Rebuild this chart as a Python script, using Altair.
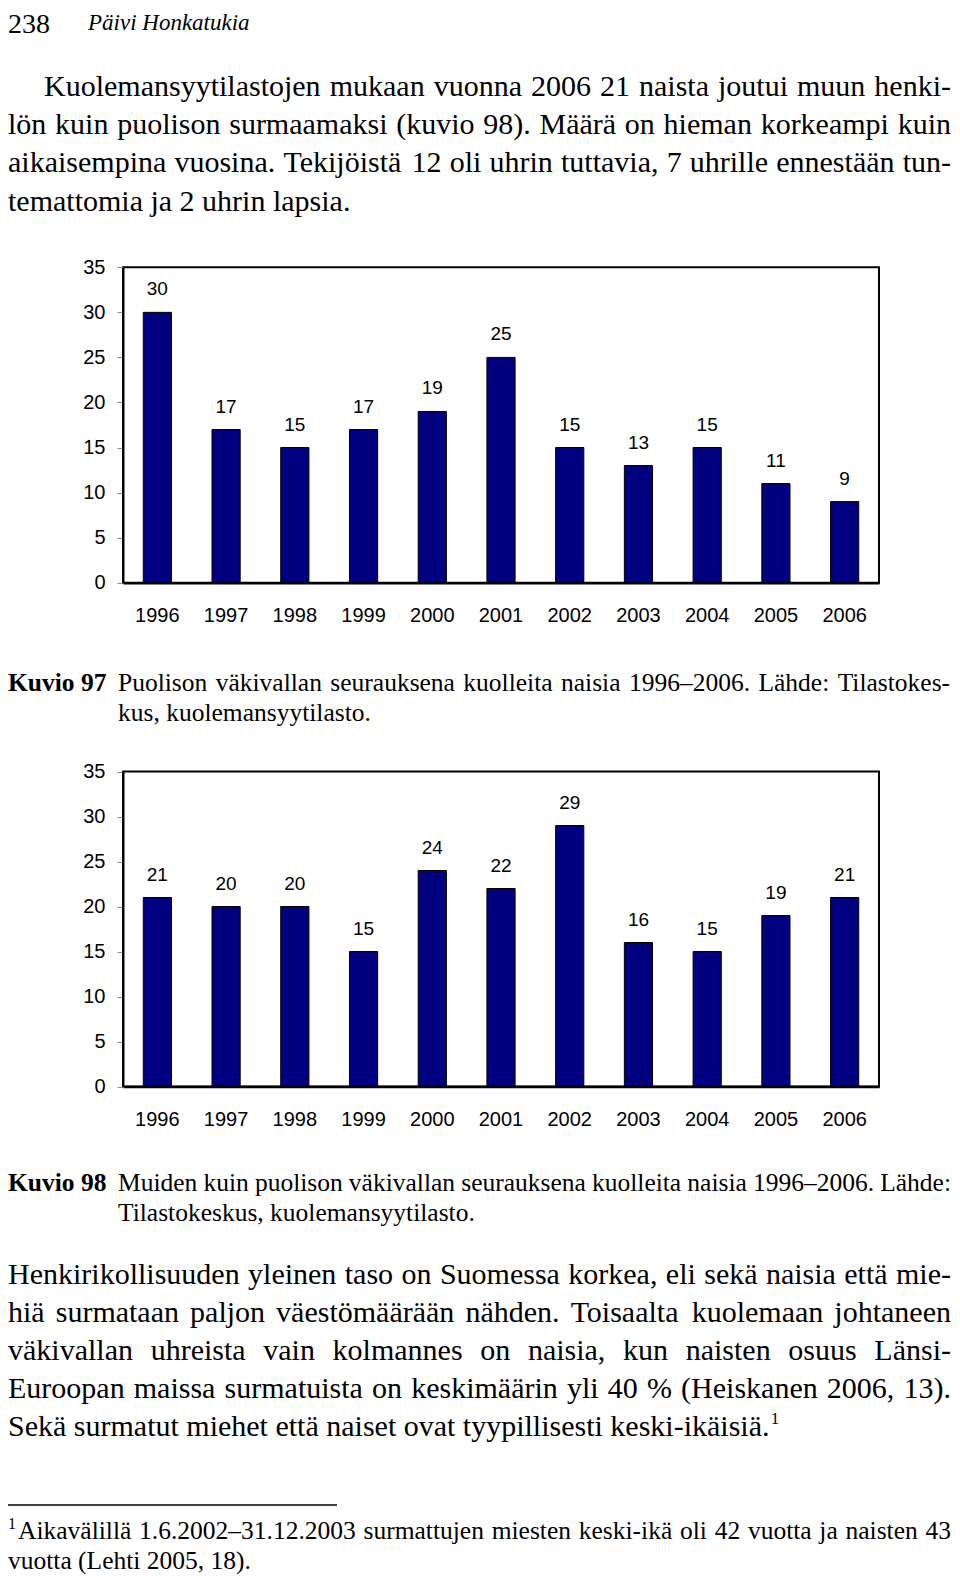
import altair as alt
import pandas as pd

# ---------------- data ----------------
years = ["1996", "1997", "1998", "1999", "2000", "2001", "2002", "2003", "2004", "2005", "2006"]
kuvio97_values = [30, 17, 15, 17, 19, 25, 15, 13, 15, 11, 9]
kuvio98_values = [21, 20, 20, 15, 24, 22, 29, 16, 15, 19, 21]
y_ticks = [0, 5, 10, 15, 20, 25, 30, 35]

page_number = "238"
running_head = "Päivi Honkatukia"
para1_lines = [
    "Kuolemansyytilastojen mukaan vuonna 2006 21 naista joutui muun henki-",
    "lön kuin puolison surmaamaksi (kuvio 98). Määrä on hieman korkeampi kuin",
    "aikaisempina vuosina. Tekijöistä 12 oli uhrin tuttavia, 7 uhrille ennestään tun-",
    "temattomia ja 2 uhrin lapsia.",
]
caption97_label = "Kuvio 97"
caption97_lines = [
    "Puolison väkivallan seurauksena kuolleita naisia 1996–2006. Lähde: Tilastokes-",
    "kus, kuolemansyytilasto.",
]
caption98_label = "Kuvio 98"
caption98_lines = [
    "Muiden kuin puolison väkivallan seurauksena kuolleita naisia 1996–2006. Lähde:",
    "Tilastokeskus, kuolemansyytilasto.",
]
para2_lines = [
    "Henkirikollisuuden yleinen taso on Suomessa korkea, eli sekä naisia että mie-",
    "hiä surmataan paljon väestömäärään nähden. Toisaalta kuolemaan johtaneen",
    "väkivallan uhreista vain kolmannes on naisia, kun naisten osuus Länsi-",
    "Euroopan maissa surmatuista on keskimäärin yli 40 % (Heiskanen 2006, 13).",
    "Sekä surmatut miehet että naiset ovat tyypillisesti keski-ikäisiä.",
]
footnote_mark = "1"
footnote_lines = [
    "Aikavälillä 1.6.2002–31.12.2003 surmattujen miesten keski-ikä oli 42 vuotta ja naisten 43",
    "vuotta (Lehti 2005, 18).",
]

# ---------------- layout constants ----------------
W, H = 944, 1568
SERIF = "Liberation Serif"
SANS = "Liberation Sans"
NAVY = "#000080"
X_LEFT, X_RIGHT = 115, 871
TEXT_RIGHT = 943

# Times (Liberation Serif) advance widths per 1000 em, for justification
_w = {' ': 250, '%': 833, '(': 333, ')': 333, ',': 250, '-': 333, '.': 250, ':': 278, '–': 500,
      'A': 722, 'E': 611, 'H': 722, 'K': 722, 'L': 611, 'M': 889, 'P': 556, 'S': 556, 'T': 611,
      'a': 444, 'b': 500, 'c': 444, 'd': 500, 'e': 444, 'f': 333, 'g': 500, 'h': 500, 'i': 278,
      'j': 278, 'k': 500, 'l': 278, 'm': 778, 'n': 500, 'o': 500, 'p': 500, 'q': 500, 'r': 333,
      's': 389, 't': 278, 'u': 500, 'v': 500, 'w': 722, 'x': 500, 'y': 500, 'z': 444,
      'ä': 444, 'ö': 500}


def text_width(s, size):
    return sum(_w.get(c, 500) for c in s) * size / 1000.0


def add_line(rows, text, x0, y, size, x1=None):
    if x1 is None:
        rows.append({"x": x0, "y": y, "t": text, "s": size})
        return
    words = text.split(" ")
    widths = [text_width(wd, size) for wd in words]
    gap = (x1 - x0 - sum(widths)) / (len(words) - 1)
    x = x0
    for wd, wdt in zip(words, widths):
        rows.append({"x": x, "y": y, "t": wd, "s": size})
        x += wdt + gap


regular, bold, italic = [], [], []

# header
add_line(regular, page_number, 0, 25, 28)
add_line(italic, running_head, 80, 21.5, 23)

# paragraph 1
BODY = 30
LEAD = 38.2
y0 = 88.0
for i, ln in enumerate(para1_lines):
    x0 = 36 if i == 0 else 0
    last = i == len(para1_lines) - 1
    add_line(regular, ln, x0, y0 + i * LEAD, BODY, None if last else TEXT_RIGHT)

# captions
CAP = 25.5
for label, lines, yb in [(caption97_label, caption97_lines, 682.5),
                         (caption98_label, caption98_lines, 1183.0)]:
    add_line(bold, label, 0, yb, CAP)
    add_line(regular, lines[0], 110, yb, CAP, TEXT_RIGHT)
    add_line(regular, lines[1], 110, yb + 30, CAP)

# paragraph 2
y0 = 1275.5
for i, ln in enumerate(para2_lines):
    last = i == len(para2_lines) - 1
    add_line(regular, ln, 0, y0 + i * LEAD, BODY, None if last else TEXT_RIGHT)
end_x = text_width(para2_lines[-1], BODY)
add_line(regular, footnote_mark, end_x + 1, y0 + 4 * LEAD - 12, 17)

# footnote
add_line(regular, footnote_mark, 0, 1521, 16)
add_line(regular, footnote_lines[0], 10, 1530.5, CAP, TEXT_RIGHT)
add_line(regular, footnote_lines[1], 0, 1560.5, CAP)


def text_layer(rows, **style):
    return alt.Chart(pd.DataFrame(rows)).mark_text(
        font=SERIF, align="left", baseline="alphabetic", color="black", **style
    ).encode(
        x=alt.X("x:Q", scale=None, axis=None),
        y=alt.Y("y:Q", scale=None, axis=None),
        text="t:N",
        size=alt.Size("s:Q", scale=None, legend=None),
    )


def bar_panel(values, y_top, y_bottom):
    df = pd.DataFrame({"Vuosi": years, "Määrä": values})
    x_enc = alt.X(
        "Vuosi:N", sort=years,
        scale=alt.Scale(range=[X_LEFT, X_RIGHT], paddingInner=0.59, paddingOuter=0.295),
        axis=alt.Axis(orient="bottom", offset=y_bottom - H, ticks=False, tickSize=0,
                      labelAngle=0, labelPadding=23, labelFont=SANS, labelFontSize=20,
                      labelColor="black", domainColor="black", domainWidth=2.5,
                      title=None, grid=False, zindex=2),
    )
    y_enc = alt.Y(
        "Määrä:Q",
        scale=alt.Scale(domain=[0, 35], range=[y_bottom, y_top], nice=False),
        axis=alt.Axis(orient="left", offset=-X_LEFT, values=y_ticks, tickSize=6,
                      tickColor="#8a8a8a", tickWidth=1, labelPadding=12, labelFont=SANS,
                      labelFontSize=20, labelColor="black", domainColor="black",
                      domainWidth=2, grid=False, title=None, zindex=2),
    )
    bars = alt.Chart(df).mark_bar(color=NAVY, stroke="black", strokeWidth=1).encode(
        x=x_enc, y=y_enc)
    labels = alt.Chart(df).mark_text(
        font=SANS, fontSize=19, baseline="middle", dy=-23, color="black"
    ).encode(x=alt.X("Vuosi:N", sort=years), y="Määrä:Q", text="Määrä:Q")
    frame = alt.Chart(pd.DataFrame({"f": [0]})).mark_rect(
        filled=False, stroke="black", strokeWidth=2
    ).encode(x=alt.value(X_LEFT), x2=alt.value(X_RIGHT), y=alt.datum(35), y2=alt.datum(0))
    return alt.layer(bars, labels, frame)


panel97 = bar_panel(kuvio97_values, 259.3, 574.7)
panel98 = bar_panel(kuvio98_values, 763.5, 1078.5)

rule = alt.Chart(pd.DataFrame({"f": [0]})).mark_rule(color="black", strokeWidth=1.5).encode(
    x=alt.value(0), x2=alt.value(329), y=alt.value(1497))

chart = alt.layer(
    panel97, panel98,
    text_layer(regular),
    text_layer(bold, fontWeight="bold"),
    text_layer(italic, fontStyle="italic"),
    rule,
).resolve_scale(x="independent", y="independent").resolve_axis(
    x="independent", y="independent"
).properties(
    width=W, height=H, autosize="none", padding=0, background="white"
).configure_view(strokeWidth=0, stroke="transparent")

chart.save("out.html", embed_options={"renderer": "svg", "actions": False})
